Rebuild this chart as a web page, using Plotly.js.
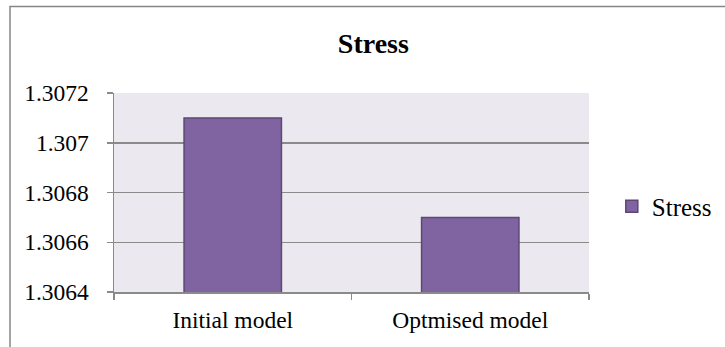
<!DOCTYPE html>
<html>
<head>
<meta charset="utf-8">
<script src="https://cdn.plot.ly/plotly-3.0.1.min.js"></script>
<style>
  html, body { margin: 0; padding: 0; background: #ffffff; overflow: hidden; }
  #chart { width: 725px; height: 347px; }
</style>
</head>
<body>
<div id="chart"></div>
<script>
// Stress values for the two models
const categories = ["Initial model", "Optmised model"];
const stressValues = [1.3071, 1.3067];
const seriesName = "Stress";

// Value-axis ticks
const yTickValues = [1.3064, 1.3066, 1.3068, 1.3070, 1.3072];
const yTickLabels = ["1.3064", "1.3066", "1.3068", "1.307", "1.3072"];

const serif = "'Liberation Serif', 'Times New Roman', serif";
const gridGray = "#8a8a8a";
const labelSize = 23.5;

const trace = {
  type: "bar",
  x: categories,
  y: stressValues,
  name: seriesName,
  width: 0.41,
  marker: {
    color: "#8064A2",
    line: { color: "#5C4776", width: 1.5 }
  },
  hoverinfo: "x+y"
};

const layout = {
  width: 725,
  height: 347,
  margin: { l: 114, r: 136, t: 93, b: 55, pad: 0, autoexpand: false },
  paper_bgcolor: "#ffffff",
  plot_bgcolor: "#EBE9EF",
  font: { family: serif, size: labelSize, color: "#000000" },
  title: {
    text: "<b>Stress</b>",
    font: { family: serif, size: 28, color: "#000000" },
    x: 0.515,
    xanchor: "center",
    y: 0.875,
    yanchor: "middle"
  },
  showlegend: true,
  legend: {
    x: 1.048,
    xanchor: "left",
    y: 0.43,
    yanchor: "middle",
    font: { family: serif, size: 25, color: "#000000" },
    bgcolor: "rgba(0,0,0,0)",
    itemwidth: 30
  },
  xaxis: {
    type: "category",
    showgrid: false,
    showline: true,
    linecolor: gridGray,
    linewidth: 1.5,
    ticks: "outside",
    tickson: "boundaries",
    ticklen: 6,
    tickwidth: 1.5,
    tickcolor: gridGray,
    ticklabelstandoff: 6,
    tickfont: { family: serif, size: labelSize, color: "#000000" },
    fixedrange: true
  },
  yaxis: {
    range: [1.3064, 1.3072],
    tickvals: yTickValues,
    ticktext: yTickLabels,
    showgrid: true,
    gridcolor: gridGray,
    gridwidth: 1.5,
    zeroline: false,
    showline: true,
    linecolor: gridGray,
    linewidth: 1.5,
    ticks: "outside",
    ticklen: 6,
    tickwidth: 1.5,
    tickcolor: gridGray,
    ticklabelstandoff: 13,
    tickfont: { family: serif, size: labelSize, color: "#000000" },
    fixedrange: true
  },
  shapes: [
    {
      // outer chart frame
      type: "rect",
      xref: "paper", yref: "paper",
      x0: -104 / 475, x1: 1.4,
      y0: -0.35, y1: (292 - 6.5) / 199,
      line: { color: "#868686", width: 1.5 },
      fillcolor: "rgba(0,0,0,0)",
      layer: "below"
    }
  ]
};

Plotly.newPlot("chart", [trace], layout, { displayModeBar: false, staticPlot: true });
</script>
</body>
</html>
